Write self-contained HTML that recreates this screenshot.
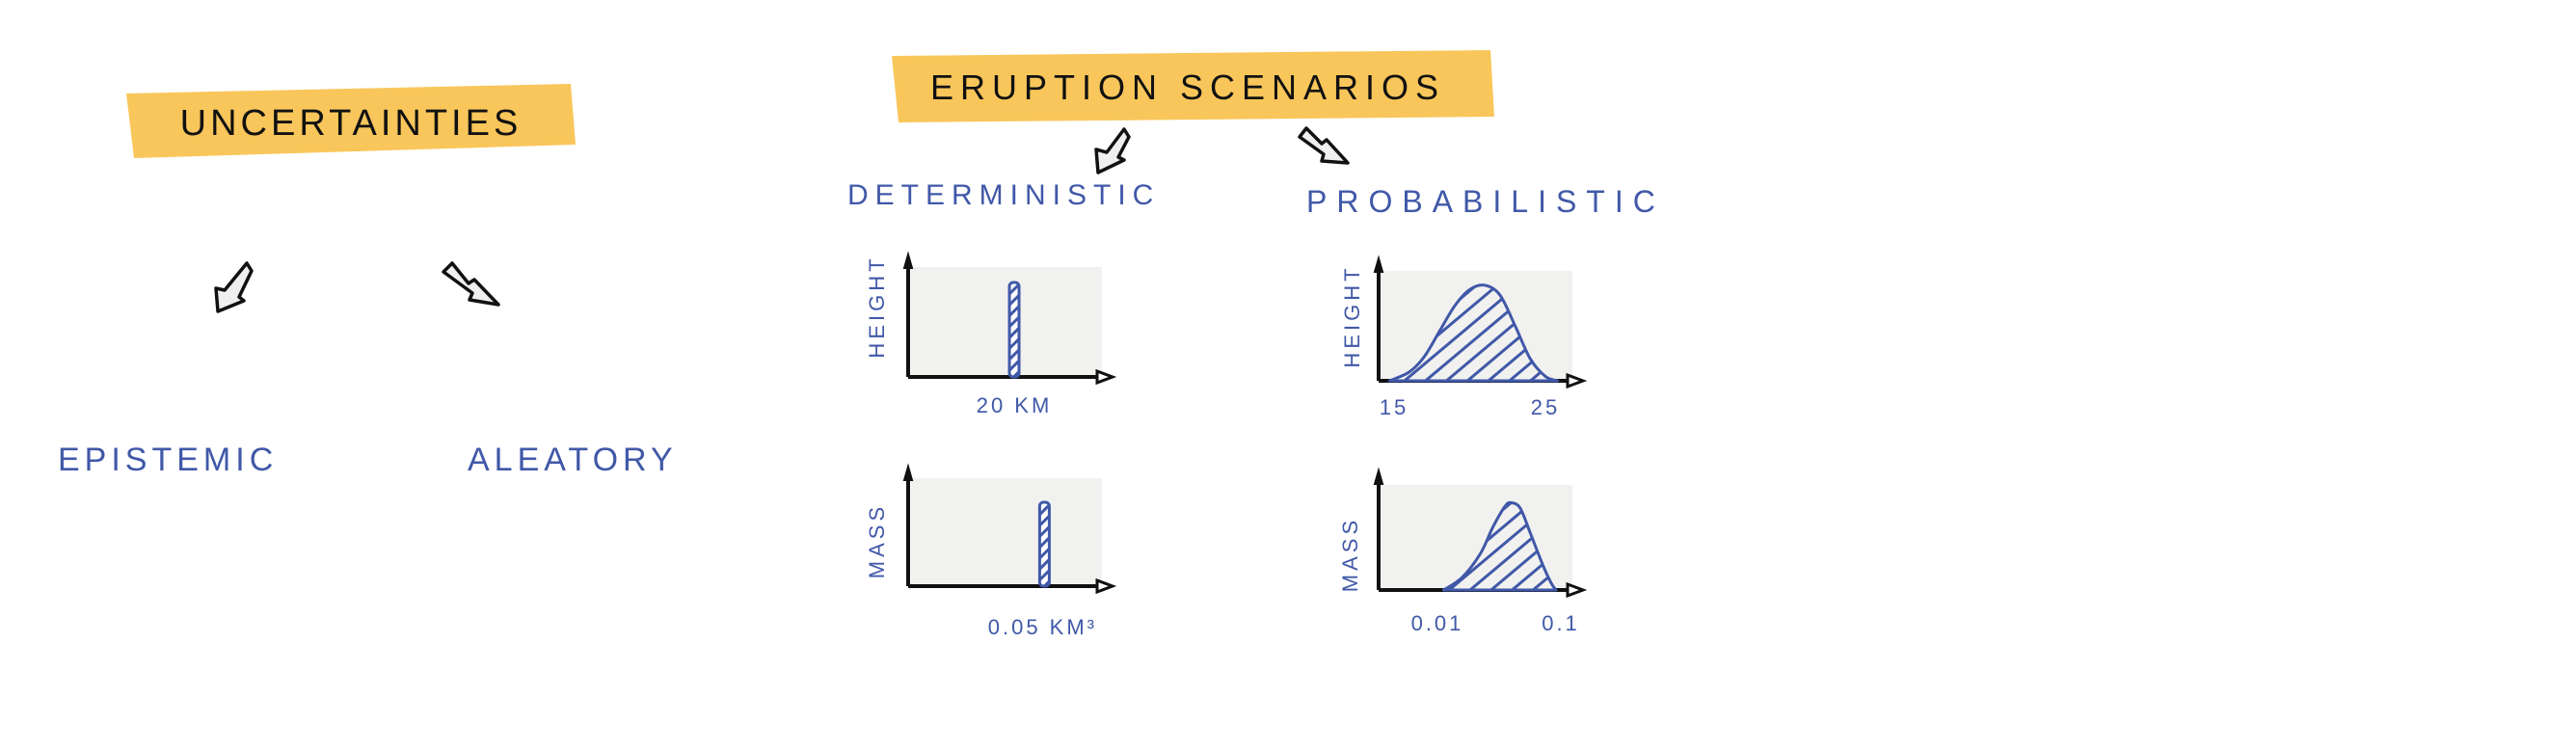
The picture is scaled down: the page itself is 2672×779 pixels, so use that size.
<!DOCTYPE html>
<html><head><meta charset="utf-8"><style>
html,body{margin:0;padding:0;background:#fff;width:2672px;height:779px;overflow:hidden}
svg{display:block}
.hand{font-family:"Liberation Sans",sans-serif;font-weight:normal}
.blue{fill:#4058a8}
</style></head><body>
<svg id="root" width="2672" height="779" viewBox="0 0 2672 779" xmlns="http://www.w3.org/2000/svg">
<defs>
<pattern id="hatch" width="14" height="14" patternUnits="userSpaceOnUse" patternTransform="rotate(-40)">
<rect width="14" height="14" fill="#f1f1ef"/><line x1="0" y1="7" x2="14" y2="7" stroke="#4058a8" stroke-width="3"/>
</pattern>
<pattern id="hatchbar" width="8" height="8" patternUnits="userSpaceOnUse" patternTransform="rotate(-45)">
<rect width="8" height="8" fill="#fff"/><line x1="0" y1="4" x2="8" y2="4" stroke="#4058a8" stroke-width="3"/>
</pattern>
</defs>

<g>
<path d="M131,97 L592,87 L597,150 L139,164 Z" fill="#f8c65a"/>
<text x="364" y="140" text-anchor="middle" class="hand" font-size="38" letter-spacing="4" fill="#111">UNCERTAINTIES</text>
</g>
<g>
<path d="M925,58 L1546,52 L1550,121 L932,127 Z" fill="#f8c65a"/>
<text x="1232" y="103" text-anchor="middle" class="hand" font-size="36" letter-spacing="7" fill="#111">ERUPTION  SCENARIOS</text>
</g>

<g><path d="M256,273 L261,281 L248,308 L253,312 L226,323 L224,299 L233,301 Z" fill="#efefef" stroke="#111" stroke-width="3.5" stroke-linejoin="round"/></g>
<g><path d="M460,282 L469,273 L486,294 L492,290 L517,316 L487,311 L490,304 Z" fill="#efefef" stroke="#111" stroke-width="3.5" stroke-linejoin="round"/></g>
<g><path d="M1166,134 L1171,142 L1160,163 L1166,166 L1139,179 L1137,155 L1148,158 Z" fill="#efefef" stroke="#111" stroke-width="3.5" stroke-linejoin="round"/></g>
<g><path d="M1348,142 L1355,133 L1371,149 L1376,145 L1398,169 L1371,167 L1373,160 Z" fill="#efefef" stroke="#111" stroke-width="3.5" stroke-linejoin="round"/></g>

<text x="60" y="488" class="hand blue" font-size="34" letter-spacing="5">EPISTEMIC</text>
<text x="485" y="488" class="hand blue" font-size="34" letter-spacing="5">ALEATORY</text>
<text x="879" y="212" class="hand blue" font-size="30" letter-spacing="7">DETERMINISTIC</text>
<text x="1355" y="220" class="hand blue" font-size="32" letter-spacing="10">PROBABILISTIC</text>

<g id="charts"></g>
</svg>
<script>
const heightXs = [14.7, 16, 17, 18, 19, 20, 21, 22, 23, 24, 25, 25.8];
const heightDensity = [0, 0.08, 0.22, 0.45, 0.68, 0.83, 0.87, 0.78, 0.5, 0.2, 0.04, 0];
const massLogXs = [-1.95, -1.8, -1.65, -1.55, -1.45, -1.4, -1.33, -1.25, -1.15, -1.08, -1.04];
const massDensity = [0, 0.12, 0.35, 0.6, 0.8, 0.83, 0.78, 0.55, 0.25, 0.07, 0];
const detHeightValue = [20];
const detMassValue = [0.05];
const heightTicks = ["15", "25"];
const heightTickValues = [15, 25];
const massTicks = ["0.01", "0.1"];
const massTickValues = [0.01, 0.1];

const NS = "http://www.w3.org/2000/svg";
const root = document.getElementById("charts");
function mk(tag, attrs, parent) {
  const e = document.createElementNS(NS, tag);
  for (const k in attrs) e.setAttribute(k, attrs[k]);
  (parent || root).appendChild(e);
  return e;
}
function smooth(pts) {
  let d = "M" + pts[0][0].toFixed(1) + "," + pts[0][1].toFixed(1);
  for (let i = 0; i < pts.length - 1; i++) {
    const p0 = pts[Math.max(0, i - 1)], p1 = pts[i], p2 = pts[i + 1], p3 = pts[Math.min(pts.length - 1, i + 2)];
    const c1x = p1[0] + (p2[0] - p0[0]) / 6, c1y = p1[1] + (p2[1] - p0[1]) / 6;
    const c2x = p2[0] - (p3[0] - p1[0]) / 6, c2y = p2[1] - (p3[1] - p1[1]) / 6;
    d += ` C${c1x.toFixed(1)},${c1y.toFixed(1)} ${c2x.toFixed(1)},${c2y.toFixed(1)} ${p2[0].toFixed(1)},${p2[1].toFixed(1)}`;
  }
  return d;
}
function frame(name, gx0, gx1, top, gtop, base, arrowEnd, ylabel, ylx, yly) {
  const g = mk("g", {});
  
  
  mk("rect", {x: gx0, y: gtop, width: gx1 - gx0, height: base - gtop, fill: "#f1f1ef"}, g);
  mk("line", {x1: gx0 - 3, y1: base, x2: gx0 - 3, y2: top + 8, stroke: "#111", "stroke-width": 4}, g);
  mk("path", {d: `M${gx0-7},${top+14} L${gx0-3},${top} L${gx0+1},${top+14} Z`, fill: "#111", stroke: "#111", "stroke-width": 2}, g);
  mk("line", {x1: gx0 - 3, y1: base, x2: arrowEnd - 14, y2: base, stroke: "#111", "stroke-width": 4}, g);
  mk("path", {d: `M${arrowEnd-16},${base-6} L${arrowEnd},${base} L${arrowEnd-16},${base+6} Z`, fill: "#fff", stroke: "#111", "stroke-width": 3}, g);
  const t = mk("text", {x: ylx, y: yly, transform: `rotate(-90 ${ylx} ${yly})`, "text-anchor": "middle", class: "hand blue", "font-size": 22, "letter-spacing": 4, "font-weight": "bold"}, g);
  t.textContent = ylabel;
  
  
  return g;
}
function label(g, x, y, s, size) {
  const t = mk("text", {x: x, y: y, "text-anchor": "middle", class: "hand blue", "font-size": size || 22, "letter-spacing": 3, "font-weight": "bold"}, g);
  t.textContent = s;
  
  
  return t;
}

(function () {
  const gx0 = 945, gx1 = 1143, base = 391, gtop = 277;
  const g = frame("deterministic-height-chart", gx0, gx1, 264, gtop, base, 1154, "HEIGHT", 917, 318);
  const xs = v => gx0 + (v - 10) / (28.5 - 10) * (gx1 - gx0);
  const top = 293;
  detHeightValue.forEach(v => {
    const b = mk("rect", {x: xs(v) - 5, y: top, width: 10, height: base - top, rx: 4, fill: "url(#hatchbar)", stroke: "#4058a8", "stroke-width": 3}, g);
    
    
    label(g, xs(v), 428, v + " KM", 22);
  });
})();

(function () {
  const gx0 = 945, gx1 = 1143, base = 608, gtop = 496;
  const g = frame("deterministic-mass-chart", gx0, gx1, 484, gtop, base, 1154, "MASS", 917, 561);
  const xs = v => gx0 + (Math.log10(v) + 2) * (gx1 - gx0);
  const top = 521;
  detMassValue.forEach(v => {
    const b = mk("rect", {x: xs(v) - 5, y: top, width: 10, height: base - top, rx: 4, fill: "url(#hatchbar)", stroke: "#4058a8", "stroke-width": 3}, g);
    
    
    label(g, xs(v) - 2, 658, v.toFixed(2) + " KM\u00b3", 22);
  });
})();

(function () {
  const gx0 = 1433, gx1 = 1631, base = 395, gtop = 281;
  const g = frame("probabilistic-height-chart", gx0, gx1, 268, gtop, base, 1642, "HEIGHT", 1410, 328);
  const xs = v => 1446 + (v - 15) * 15.7;
  const ys = d => base - d * (base - gtop);
  const pts = heightXs.map((x, i) => [xs(x), ys(heightDensity[i])]);
  const p = mk("path", {d: smooth(pts) + " Z", fill: "url(#hatch)", stroke: "#4058a8", "stroke-width": 3, "stroke-linejoin": "round"}, g);
  
  
  heightTickValues.forEach((v, i) => label(g, xs(v), 430, heightTicks[i], 22));
})();

(function () {
  const gx0 = 1433, gx1 = 1631, base = 612, gtop = 503;
  const g = frame("probabilistic-mass-chart", gx0, gx1, 488, gtop, base, 1642, "MASS", 1408, 575);
  const xs = lv => 1491 + (lv + 2) * 128;
  const ys = d => base - d * (base - gtop);
  const pts = massLogXs.map((x, i) => [xs(x), ys(massDensity[i])]);
  const p = mk("path", {d: smooth(pts) + " Z", fill: "url(#hatch)", stroke: "#4058a8", "stroke-width": 3, "stroke-linejoin": "round"}, g);
  
  
  massTickValues.forEach((v, i) => label(g, xs(Math.log10(v)), 654, massTicks[i], 22));
})();
</script>
</body></html>
